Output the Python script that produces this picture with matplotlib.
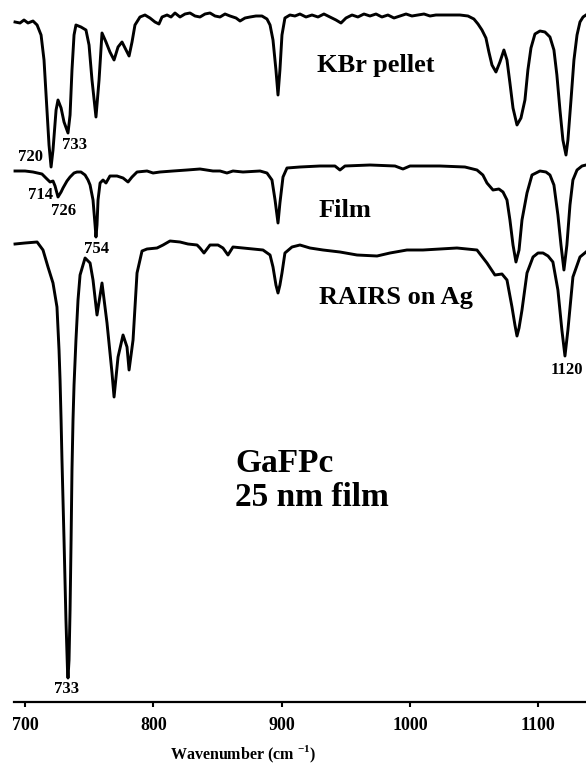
import matplotlib
matplotlib.use('Agg')
import matplotlib.pyplot as plt

# Spectra: wavenumber (cm-1) and stacked intensity (arb. units, offsets included)
kbr_wn = [692.2, 696.1, 699.2, 702.3, 706.2, 709.4, 712.5, 714.8, 717.1, 718.7,
          720.3, 721.8, 724.2, 725.7, 728.1, 730.4, 733.5, 735.1, 736.6, 738.2,
          739.7, 743.6, 747.5, 749.9, 752.2, 755.3, 757.7, 760.0, 763.1, 766.2,
          769.4, 772.5, 775.6, 778.7, 781.1, 783.4, 785.7, 789.6, 793.5, 797.4,
          801.3, 804.4, 806.8, 810.7, 813.8, 816.9, 820.8, 824.7, 828.6, 832.5,
          836.4, 840.3, 844.2, 848.1, 852.0, 855.9, 859.8, 864.5, 867.6, 871.5,
          875.4, 880.0, 884.7, 888.6, 891.0, 893.3, 895.6, 897.2, 898.7, 900.3,
          902.6, 906.5, 910.4, 914.3, 919.0, 923.7, 928.4, 933.0, 937.7, 942.4,
          946.3, 950.2, 954.9, 959.5, 964.2, 968.9, 973.6, 978.2, 982.9, 987.6,
          992.3, 997.0, 1001.6, 1006.3, 1011.0, 1015.7, 1020.3, 1025.0, 1031.2, 1039.0,
          1045.3, 1049.9, 1053.1, 1056.2, 1059.3, 1061.6, 1064.0, 1067.1, 1070.2, 1073.3,
          1075.7, 1078.0, 1080.4, 1083.5, 1086.6, 1089.7, 1092.0, 1094.4, 1097.5, 1101.4,
          1105.3, 1109.2, 1112.3, 1114.6, 1117.0, 1119.3, 1121.7, 1123.2, 1125.6, 1127.9,
          1130.3, 1132.6, 1135.0, 1137.3]
kbr_val = [680, 679, 682, 679, 681, 677, 667, 642, 592, 557,
           535, 552, 592, 602, 594, 580, 569, 587, 632, 667,
           677, 675, 672, 657, 622, 585, 622, 669, 660, 650,
           642, 655, 660, 652, 646, 660, 677, 685, 687, 684,
           680, 678, 685, 687, 685, 689, 685, 688, 689, 686,
           685, 688, 689, 686, 685, 688, 686, 684, 681, 684,
           685, 686, 686, 683, 677, 662, 632, 607, 632, 667,
           684, 687, 686, 688, 685, 687, 685, 688, 685, 682,
           679, 684, 687, 685, 688, 686, 688, 685, 687, 684,
           686, 688, 686, 687, 688, 686, 687, 687, 687, 687,
           686, 683, 678, 672, 664, 650, 637, 630, 640, 652,
           642, 619, 594, 577, 584, 602, 632, 654, 668, 671,
           670, 665, 652, 627, 592, 562, 547, 562, 602, 642,
           667, 680, 685, 687]

film_wn = [692.2, 700.0, 706.2, 713.2, 717.1, 719.5, 721.8, 723.4, 725.7, 728.1,
           729.6, 732.7, 735.1, 738.2, 740.5, 743.6, 746.8, 749.1, 750.7, 753.0,
           754.6, 755.3, 756.1, 756.9, 758.5, 760.8, 763.1, 766.2, 771.7, 776.4,
           780.3, 783.4, 787.3, 795.1, 799.8, 805.2, 815.4, 826.3, 836.4, 846.5,
           852.0, 857.4, 862.1, 869.9, 883.2, 888.6, 892.5, 894.9, 897.2, 898.7,
           901.1, 904.2, 914.3, 929.9, 941.6, 945.5, 949.4, 968.9, 988.4, 994.6,
           1000.1, 1023.4, 1042.9, 1052.3, 1056.9, 1060.1, 1064.8, 1069.4, 1072.6, 1075.7,
           1078.0, 1080.4, 1082.7, 1085.1, 1087.4, 1091.3, 1095.2, 1101.4, 1106.1, 1109.2,
           1112.3, 1115.4, 1117.8, 1120.1, 1122.4, 1124.8, 1127.1, 1130.3, 1134.2, 1137.3]
film_val = [531, 531, 530, 528, 523, 520, 521, 516, 505, 510,
            514, 521, 525, 529, 530, 530, 527, 522, 517, 502,
            477, 465, 477, 502, 519, 522, 519, 526, 526, 524,
            520, 525, 530, 531, 529, 530, 531, 532, 533, 531,
            531, 529, 531, 530, 531, 529, 522, 502, 479, 499,
            525, 534, 535, 536, 536, 532, 536, 537, 536, 533,
            536, 536, 535, 532, 527, 519, 512, 513, 510, 502,
            482, 457, 440, 452, 482, 509, 527, 531, 530, 527,
            517, 487, 457, 432, 457, 497, 522, 532, 536, 537]

rairs_wn = [692.2, 700.0, 709.4, 714.0, 717.9, 721.8, 724.9, 726.5, 727.3, 728.1,
            728.8, 730.4, 731.9, 733.1, 733.5, 734.3, 735.1, 735.9, 736.6, 737.4,
            738.2, 739.7, 741.3, 742.9, 746.8, 750.7, 753.0, 756.1, 760.0, 763.9,
            767.8, 769.4, 772.5, 776.4, 779.5, 781.1, 784.2, 787.3, 791.2, 795.1,
            802.9, 807.6, 813.0, 820.8, 827.0, 834.1, 836.4, 839.5, 844.2, 850.4,
            854.3, 858.2, 862.1, 869.9, 877.7, 885.5, 891.0, 893.3, 895.6, 897.2,
            898.7, 900.3, 902.6, 908.1, 914.3, 922.1, 932.3, 945.5, 958.8, 974.4,
            984.5, 997.7, 1010.2, 1023.5, 1036.7, 1052.3, 1060.1, 1066.3, 1071.8, 1075.7,
            1079.6, 1081.9, 1083.5, 1085.1, 1087.4, 1091.3, 1096.0, 1099.9, 1103.8, 1107.7,
            1111.5, 1115.4, 1118.5, 1120.9, 1123.2, 1127.1, 1132.6, 1137.3]
rairs_val = [458, 459, 460, 452, 435, 419, 395, 352, 322, 282,
             242, 162, 82, 32, 24, 42, 92, 162, 232, 282,
             317, 362, 402, 427, 444, 439, 422, 387, 419, 379,
             329, 305, 345, 367, 355, 332, 362, 429, 451, 453,
             454, 457, 461, 460, 458, 457, 454, 449, 457, 457,
             454, 447, 455, 454, 453, 452, 447, 435, 417, 409,
             417, 429, 449, 455, 457, 454, 452, 450, 447, 446,
             449, 452, 452, 453, 454, 452, 439, 427, 428, 422,
             395, 377, 366, 374, 392, 429, 445, 449, 449, 446,
             440, 412, 372, 346, 372, 425, 445, 450]

# peak labels: text, wavenumber, height
peak_text = ['720', '733', '714', '726', '754', '1120', '733']
peak_wn = [703.9, 739.0, 711.7, 730.4, 756.1, 1122.4, 732.7]
peak_y = [545, 557, 507, 491, 453, 332, 13]

trace_names = ['KBr pellet', 'Film', 'RAIRS on Ag']
name_wn = [973.6, 949.4, 989.2]
name_y = [630, 485, 398]

xticks = [700, 800, 900, 1000, 1100]

plt.rcParams['font.family'] = 'Liberation Serif'
plt.rcParams['font.weight'] = 'bold'
plt.rcParams['mathtext.fontset'] = 'custom'
plt.rcParams['mathtext.rm'] = 'Liberation Serif:bold'
plt.rcParams['mathtext.bf'] = 'Liberation Serif:bold'

fig = plt.figure(figsize=(5.86, 7.69), dpi=100)
ax = fig.add_axes([14 / 586, 67 / 769, 572 / 586, 702 / 769])

for wn, val in [(kbr_wn, kbr_val), (film_wn, film_val), (rairs_wn, rairs_val)]:
    ax.plot(wn, val, color='black', lw=2.1, solid_joinstyle='round', clip_on=False)

ax.set_xlim(691.4, 1137.3)
ax.set_ylim(0, 702)

for s in ['top', 'right', 'left']:
    ax.spines[s].set_visible(False)
ax.spines['bottom'].set_linewidth(1.6)
ax.set_yticks([])
ax.set_xticks(xticks)
ax.set_xticklabels([str(t) for t in xticks], fontsize=13, fontweight='bold')
ax.tick_params(axis='x', direction='out', length=3.5, width=1.5, pad=7)

ax.set_xlabel(r'Wavenumber (cm $^{\mathbf{-1}}$)', fontsize=11.5, fontweight='bold')
ax.xaxis.set_label_coords((243 - 14) / 572, -(744 - 702) / 702)

for t, w, y in zip(peak_text, peak_wn, peak_y):
    ax.text(w, y, t, fontsize=12, fontweight='bold', ha='center', va='center')

for t, w, y in zip(trace_names, name_wn, name_y):
    ax.text(w, y, t, fontsize=19, fontweight='bold', ha='center', va='baseline')

ax.text(863.7, 230, 'GaFPc', fontsize=24, fontweight='bold', ha='left', va='baseline')
ax.text(863.7, 196, '25 nm film', fontsize=24, fontweight='bold', ha='left', va='baseline')

fig.savefig('out.png', dpi=100)
